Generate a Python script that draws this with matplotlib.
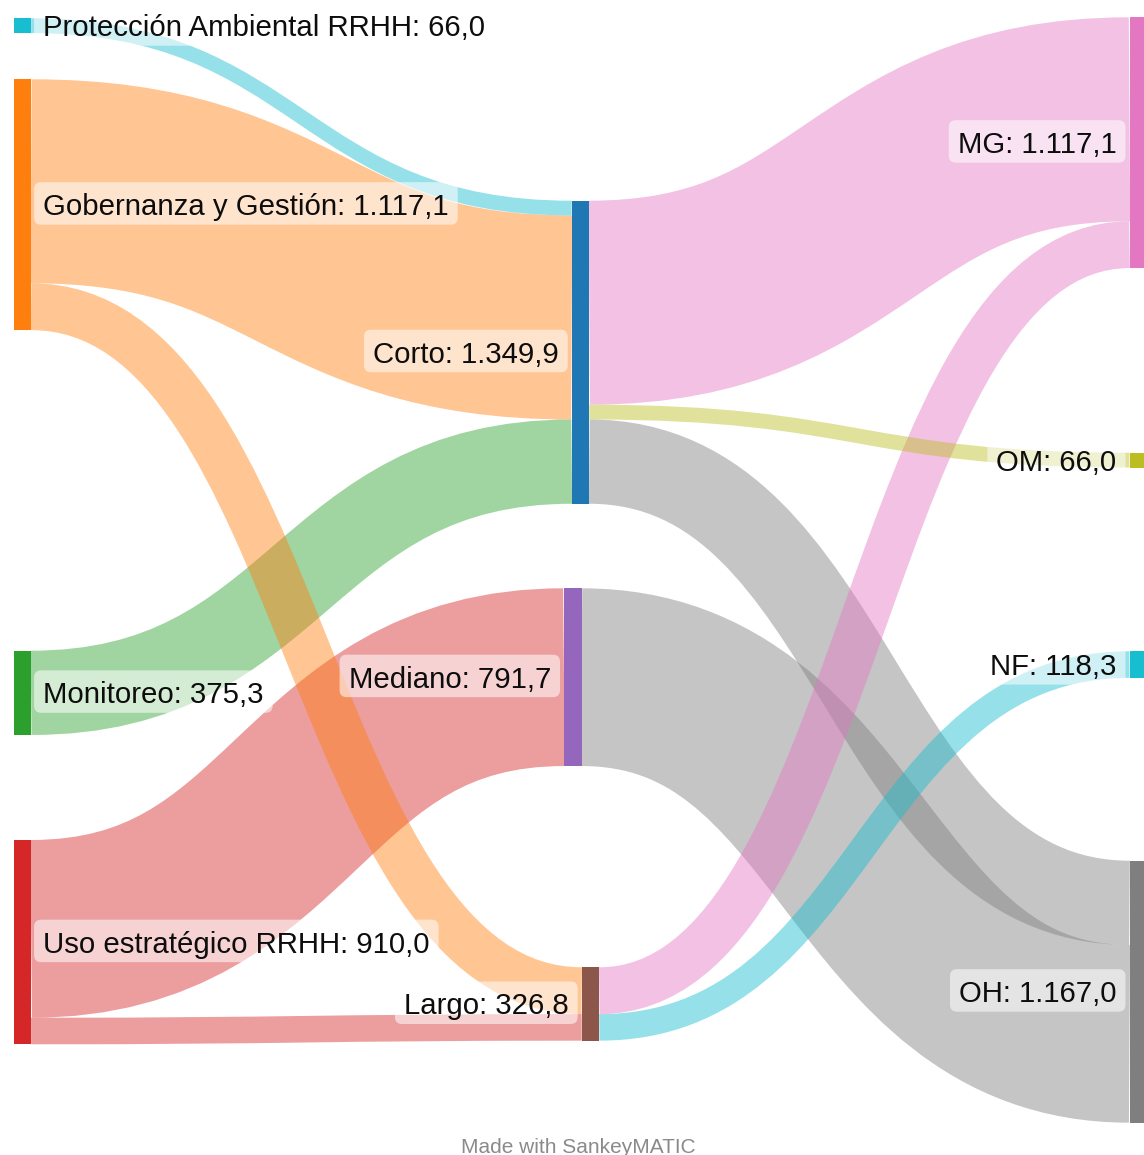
import matplotlib
matplotlib.use("Agg")
import matplotlib.pyplot as plt
from matplotlib.path import Path
from matplotlib.patches import PathPatch, FancyBboxPatch, Rectangle

plt.rcParams["font.family"] = ["Liberation Sans", "DejaVu Sans"]

# data
node_names = ["Protección Ambiental RRHH", "Gobernanza y Gestión", "Monitoreo",
              "Uso estratégico RRHH", "Corto", "Mediano", "Largo",
              "MG", "OM", "NF", "OH"]
node_colors = ["#17becf", "#ff7f0e", "#2ca02c", "#d62728", "#1f77b4", "#9467bd",
               "#8c564b", "#e377c2", "#bcbd22", "#17becf", "#7f7f7f"]

flow_src = ["Protección Ambiental RRHH", "Gobernanza y Gestión", "Gobernanza y Gestión",
            "Monitoreo", "Uso estratégico RRHH", "Uso estratégico RRHH",
            "Corto", "Corto", "Corto", "Mediano", "Largo", "Largo"]
flow_tgt = ["Corto", "Corto", "Largo", "Corto", "Mediano", "Largo",
            "MG", "OM", "OH", "OH", "MG", "NF"]
flow_val = [66.0, 908.6, 208.5, 375.3, 791.7, 118.3,
            908.6, 66.0, 375.3, 791.7, 208.5, 118.3]

# layout (pixels)
node_col = [0, 0, 0, 0, 1, 1, 1, 2, 2, 2, 2]
node_left = [13.5, 13.5, 13.5, 13.5, 571.7, 564.0, 581.7, 1129.5, 1129.5, 1129.5, 1129.5]
node_top = [18.3, 79.3, 650.7, 840.0, 200.7, 588.3, 967.3, 17.3, 452.7, 651.3, 860.7]
node_w = 17.6
scale = 0.2245
flow_alpha = 0.45

W, H = 1144, 1155
fig = plt.figure(figsize=(W / 100, H / 100), dpi=100)
ax = fig.add_axes([0, 0, 1, 1])
ax.set_xlim(0, W)
ax.set_ylim(H, 0)
ax.axis("off")

idx = {n: i for i, n in enumerate(node_names)}
n_in = [0.0] * len(node_names)
n_out = [0.0] * len(node_names)
for s, t, v in zip(flow_src, flow_tgt, flow_val):
    n_out[idx[s]] += v
    n_in[idx[t]] += v
node_val = [max(a, b) for a, b in zip(n_in, n_out)]

# stacking of flows at each node, ordered by the other end's position
out_off = {}
in_off = {}
for i in range(len(node_names)):
    outs = [k for k in range(len(flow_val)) if idx[flow_src[k]] == i]
    outs.sort(key=lambda k: node_top[idx[flow_tgt[k]]])
    y = node_top[i]
    for k in outs:
        out_off[k] = y
        y += flow_val[k] * scale
    ins = [k for k in range(len(flow_val)) if idx[flow_tgt[k]] == i]
    ins.sort(key=lambda k: node_top[idx[flow_src[k]]])
    y = node_top[i]
    for k in ins:
        in_off[k] = y
        y += flow_val[k] * scale

order = sorted(range(len(flow_val)), key=lambda k: -flow_val[k])
for k in order:
    s, t = idx[flow_src[k]], idx[flow_tgt[k]]
    w = flow_val[k] * scale
    x0 = node_left[s] + node_w
    x1 = node_left[t]
    y0 = out_off[k] + w / 2
    y1 = in_off[k] + w / 2
    xm = (x0 + x1) / 2
    col = node_colors[t] if node_col[t] == 2 else node_colors[s]
    path = Path([(x0, y0), (xm, y0), (xm, y1), (x1, y1)],
                [Path.MOVETO, Path.CURVE4, Path.CURVE4, Path.CURVE4])
    ax.add_patch(PathPatch(path, fill=False, edgecolor=col, alpha=flow_alpha,
                           lw=w * 0.72, capstyle="butt", zorder=1))

for i in range(len(node_names)):
    ax.add_patch(Rectangle((node_left[i], node_top[i]), node_w, node_val[i] * scale,
                           color=node_colors[i], lw=0, zorder=2))


def fmt(v):
    s = f"{v:,.1f}"
    return s.replace(",", "X").replace(".", ",").replace("X", ".")


texts = []
for i, name in enumerate(node_names):
    cy = node_top[i] + node_val[i] * scale / 2
    if node_col[i] == 0:
        x, ha = node_left[i] + node_w + 12, "left"
    else:
        x, ha = node_left[i] - 13, "right"
    t = ax.text(x, cy + 10.4, f"{name}: {fmt(node_val[i])}", ha=ha, va="baseline",
                fontsize=21.2, color="#0d0d0d", zorder=4)
    texts.append((t, cy))

ax.text(578, 1153, "Made with SankeyMATIC", ha="center", va="baseline",
        fontsize=15, color="#8a8a8a")

fig.canvas.draw()
r = fig.canvas.get_renderer()
inv = ax.transData.inverted()
for t, cy in texts:
    bb = inv.transform(t.get_window_extent(r).get_points())
    bx0, bx1 = min(bb[:, 0]), max(bb[:, 0])
    ax.add_patch(FancyBboxPatch((bx0 - 9, cy - 22.5), bx1 - bx0 + 18, 42.5,
                                boxstyle="round,pad=0,rounding_size=7",
                                fc="white", ec="none", alpha=0.55, zorder=3))

fig.savefig("out.png", dpi=100)
